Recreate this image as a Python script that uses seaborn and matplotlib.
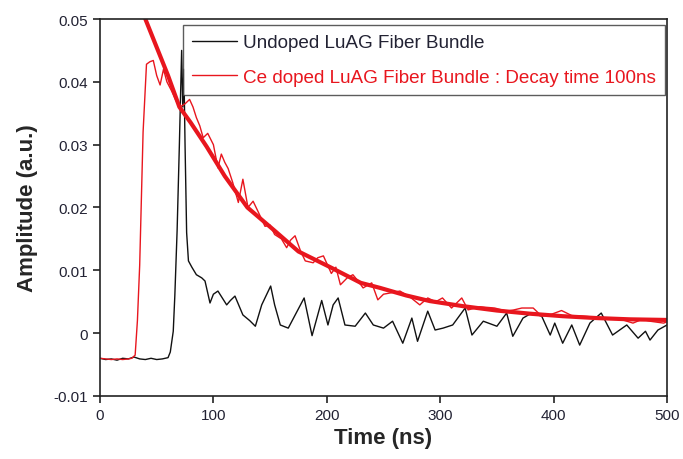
import numpy as np
import pandas as pd
import matplotlib
matplotlib.use("Agg")
import matplotlib.pyplot as plt
import seaborn as sns

# Undoped LuAG fiber bundle (black trace)
t_undoped = [0, 5, 10, 15, 20, 25, 30, 35, 40, 45, 50, 55, 60, 62, 64.6, 66, 68, 70, 72, 73, 74, 75,
             76.4, 78, 81, 85, 89.7, 92.6, 97, 100, 104, 111.7, 115, 119, 126, 132, 137, 142.6, 150.5,
             154, 159, 166, 173, 180, 187, 195.5, 201, 205.6, 210, 216, 225, 234, 241, 250, 258, 267,
             275, 280, 289, 295.5, 302.5, 311, 322, 328, 338, 350, 358.6, 364, 373, 380.7, 389.5, 397,
             401, 408, 416, 423, 432, 442, 452, 464.5, 474.5, 481, 485, 492, 500]
a_undoped = [-0.0040, -0.0042, -0.0041, -0.0043, -0.0040, -0.0041, -0.0038, -0.0041, -0.0042, -0.0040,
             -0.0042, -0.0041, -0.0039, -0.0030, 0.0003, 0.0060, 0.0163, 0.0300, 0.0450, 0.0360, 0.0420,
             0.0300, 0.0160, 0.0115, 0.0105, 0.0093, 0.0088, 0.0083, 0.0048, 0.0062, 0.0067, 0.0045,
             0.0052, 0.0059, 0.0029, 0.0020, 0.0011, 0.0045, 0.0075, 0.0045, 0.0013, 0.0008, 0.0032,
             0.0056, -0.0004, 0.0052, 0.0013, 0.0045, 0.0056, 0.0013, 0.0011, 0.0032, 0.0013, 0.0008,
             0.0019, -0.0016, 0.0024, -0.0013, 0.0035, 0.0005, 0.0008, 0.0013, 0.0040, -0.0003, 0.0019,
             0.0011, 0.0032, -0.0005, 0.0024, 0.0032, 0.0027, -0.0003, 0.0016, -0.0016, 0.0013, -0.0019,
             0.0016, 0.0032, -0.0003, 0.0013, -0.0008, 0.0003, -0.0011, 0.0005, 0.0013]

# Ce doped LuAG fiber bundle (thin red trace)
t_doped = [0, 5, 10, 15, 20, 25, 28, 31, 33, 35, 38, 41, 44, 47, 50, 53, 56, 59, 63, 67, 70.5, 75, 79,
           82, 85, 88, 91, 95, 100, 104, 107, 110, 113, 117, 122, 126, 130.5, 135, 139, 145.5, 150, 154,
           160, 164.6, 168, 172, 177, 181, 188, 192, 197, 204, 208, 212, 218, 223, 228, 232, 239.6, 245,
           250, 256, 264.5, 273, 282, 289, 296, 302, 310, 319, 324.6, 335, 348, 358.6, 365, 372, 382,
           389.5, 398, 407, 416, 426, 440, 455.6, 470, 478, 485, 497, 500]
a_doped = [-0.0040, -0.0041, -0.0042, -0.0041, -0.0042, -0.0041, -0.0040, -0.0035, 0.0020, 0.0108,
           0.0320, 0.0428, 0.0432, 0.0434, 0.0410, 0.0395, 0.0420, 0.0400, 0.0386, 0.0370, 0.0360,
           0.0365, 0.0372, 0.0360, 0.0343, 0.0330, 0.0311, 0.0318, 0.0300, 0.0263, 0.0285, 0.0272,
           0.0262, 0.0240, 0.0208, 0.0245, 0.0200, 0.0210, 0.0195, 0.0170, 0.0172, 0.0157, 0.0150,
           0.0136, 0.0148, 0.0155, 0.0130, 0.0115, 0.0112, 0.0120, 0.0123, 0.0095, 0.0105, 0.0077,
           0.0088, 0.0093, 0.0082, 0.0072, 0.0080, 0.0053, 0.0062, 0.0064, 0.0067, 0.0058, 0.0045,
           0.0056, 0.0050, 0.0056, 0.0040, 0.0056, 0.0037, 0.0042, 0.0040, 0.0035, 0.0037, 0.0040,
           0.0040, 0.0027, 0.0030, 0.0036, 0.0028, 0.0027, 0.0025, 0.0024, 0.0016, 0.0022, 0.0019,
           0.0016, 0.0018]

# Decay fit (thick red curve)
t_fit = [40, 50, 60, 70, 80, 94, 110, 130, 154, 175, 203, 230, 247, 270, 291, 320, 350, 379, 408,
         438, 467, 500]
a_fit = [0.0500, 0.0455, 0.0410, 0.0360, 0.0335, 0.0297, 0.0250, 0.0200, 0.0163, 0.0130, 0.0105,
         0.0080, 0.0072, 0.0060, 0.0051, 0.0043, 0.0036, 0.0031, 0.0027, 0.0024, 0.0022, 0.0021]

sns.set_style("ticks")
plt.rcParams["font.family"] = ["Liberation Sans", "DejaVu Sans"]

fig = plt.figure(figsize=(6.83, 4.6), dpi=100)
ax = fig.add_axes([0.1464, 0.137, 0.8302, 0.8195])

red = "#e8161e"
sns.lineplot(x=t_undoped, y=a_undoped, ax=ax, color="#111111", lw=1.0,
             label="Undoped LuAG Fiber Bundle")
sns.lineplot(x=t_doped, y=a_doped, ax=ax, color=red, lw=1.0,
             label="Ce doped LuAG Fiber Bundle : Decay time 100ns")
sns.lineplot(x=t_fit, y=a_fit, ax=ax, color=red, lw=3.0, legend=False)

ax.set_xlim(0, 500)
ax.set_ylim(-0.01, 0.05)
ax.set_xticks([0, 100, 200, 300, 400, 500])
ax.set_yticks([-0.01, 0, 0.01, 0.02, 0.03, 0.04, 0.05])
ax.set_yticklabels(["-0.01", "0", "0.01", "0.02", "0.03", "0.04", "0.05"])
ax.tick_params(direction="out", length=5, width=1.2, labelsize=11, colors="#222233",
               top=False, right=False)
ax.tick_params(axis="both", color="#222222")
for s in ax.spines.values():
    s.set_color("#222222")
    s.set_linewidth(1.2)

ax.set_xlabel("Time (ns)", fontsize=16, fontweight="bold", labelpad=4)
ax.set_ylabel("Amplitude (a.u.)", fontsize=16, fontweight="bold", labelpad=11)

leg = ax.legend(loc="upper right", bbox_to_anchor=(0.997, 0.985), borderaxespad=0,
                fontsize=13.6, frameon=True, fancybox=False, handlelength=2.4,
                handletextpad=0.3, labelcolor="linecolor", borderpad=0.5, labelspacing=0.9)
leg.get_frame().set_edgecolor("#333333")
leg.get_frame().set_linewidth(1.0)
leg.get_texts()[0].set_color("#222233")

fig.savefig("out.png", dpi=100)
